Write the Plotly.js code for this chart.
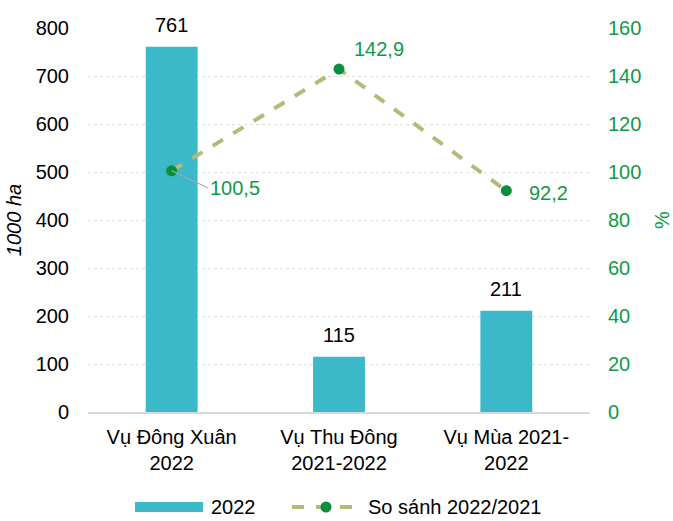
<!DOCTYPE html>
<html><head><meta charset="utf-8">
<script src="https://cdn.plot.ly/plotly-3.0.1.min.js"></script>
<style>body{margin:0}#c{width:673px;height:521px}</style>
</head><body><div id="c"></div>
<script>
const categories = ["Vụ Đông Xuân<br>2022", "Vụ Thu Đông<br>2021-2022", "Vụ Mùa 2021-<br>2022"];
const area2022 = [761, 115, 211];
const compare = [100.5, 142.9, 92.2];
const compareLabels = ["100,5", "142,9", "92,2"];
const leftTicks = [0,100,200,300,400,500,600,700,800];
const rightTicks = [0,20,40,60,80,100,120,140,160];
const seriesNames = ["2022", "So sánh 2022/2021"];

const FS = 20;
const font = {family: "Liberation Sans, Arial, sans-serif", size: FS, color: "#000"};
const green = "#11994a";
const teal = "#3bb9c8";
const olive = "#b3bb7b";
const dotGreen = "#0a8f3f";

const traces = [
  {type: "bar", x: categories, y: area2022, name: seriesNames[0], showlegend: false,
   marker: {color: teal}, width: 0.31},
  {type: "scatter", mode: "lines+markers", x: categories, y: compare, yaxis: "y2",
   name: seriesNames[1], showlegend: false,
   line: {color: olive, width: 4, dash: "dash"},
   marker: {color: dotGreen, size: 11}}
];

const annotations = [];
categories.forEach((c, i) => annotations.push({
  x: c, y: area2022[i], yref: "y", text: String(area2022[i]), showarrow: false,
  yanchor: "middle", yshift: 22, font: {size: FS, color: "#000"}}));

annotations.push(
  {x: categories[0], y: compare[0], yref: "y2", text: compareLabels[0], showarrow: true,
   arrowhead: 0, arrowcolor: "#a6a6a6", arrowwidth: 1.2, ax: 36, ay: 17, xanchor: "left",
   font: {size: FS, color: green}},
  {x: categories[1], y: compare[1], yref: "y2", text: compareLabels[1], showarrow: false,
   xanchor: "left", yanchor: "middle", xshift: 13, yshift: 20, font: {size: FS, color: green}},
  {x: categories[2], y: compare[2], yref: "y2", text: compareLabels[2], showarrow: false,
   xanchor: "left", yanchor: "middle", xshift: 21, yshift: -2, font: {size: FS, color: green}}
);

// manual legend (paper coordinates from pixel positions)
const L = 88, W = 502, B = 412, H = 384;
const px = v => (v - L) / W, py = v => (B - v) / H;
const legY = 507;
const shapes = [
  {type: "rect", xref: "paper", yref: "paper", x0: px(135), x1: px(203), y0: py(legY + 5), y1: py(legY - 5),
   fillcolor: teal, line: {width: 0}},
  {type: "line", xref: "paper", yref: "paper", x0: px(292), x1: px(360), y0: py(legY), y1: py(legY),
   line: {color: olive, width: 4, dash: "dash"}},
  {type: "circle", xref: "paper", yref: "paper",
   x0: px(320.5), x1: px(331.5), y0: py(legY + 5.5), y1: py(legY - 5.5),
   fillcolor: dotGreen, line: {width: 0}}
];
annotations.push(
  {xref: "paper", yref: "paper", x: px(209), y: py(legY), text: seriesNames[0], showarrow: false,
   xanchor: "left", yanchor: "middle", font: {size: FS}},
  {xref: "paper", yref: "paper", x: px(366), y: py(legY), text: seriesNames[1], showarrow: false,
   xanchor: "left", yanchor: "middle", font: {size: FS}}
);

const layout = {
  width: 673, height: 521,
  margin: {l: 88, r: 83, t: 28, b: 109},
  font: font,
  paper_bgcolor: "#fff", plot_bgcolor: "#fff",
  showlegend: false,
  bargap: 0.69,
  xaxis: {tickfont: {size: FS}, showline: true, linecolor: "#d9d9d9", linewidth: 1.5,
          ticks: "", automargin: false, ticklabelstandoff: 6},
  yaxis: {range: [0, 800], tickvals: leftTicks, tickfont: {size: FS},
          showgrid: true, gridcolor: "#dcdcdc", griddash: "dot", zeroline: false,
          ticks: "outside", ticklen: 14, tickcolor: "rgba(0,0,0,0)", automargin: false,
          title: {text: "1000 ha", font: {size: FS, style: "italic"}, standoff: 8}},
  yaxis2: {range: [0, 160], tickvals: rightTicks, overlaying: "y", side: "right",
           tickfont: {size: FS, color: green}, showgrid: false, zeroline: false,
           ticks: "outside", ticklen: 13, tickcolor: "rgba(0,0,0,0)", automargin: false,
           title: {text: "%", font: {size: FS, color: green}, standoff: 14}},
  annotations: annotations,
  shapes: shapes
};

Plotly.newPlot("c", traces, layout, {displayModeBar: false});
</script></body></html>
